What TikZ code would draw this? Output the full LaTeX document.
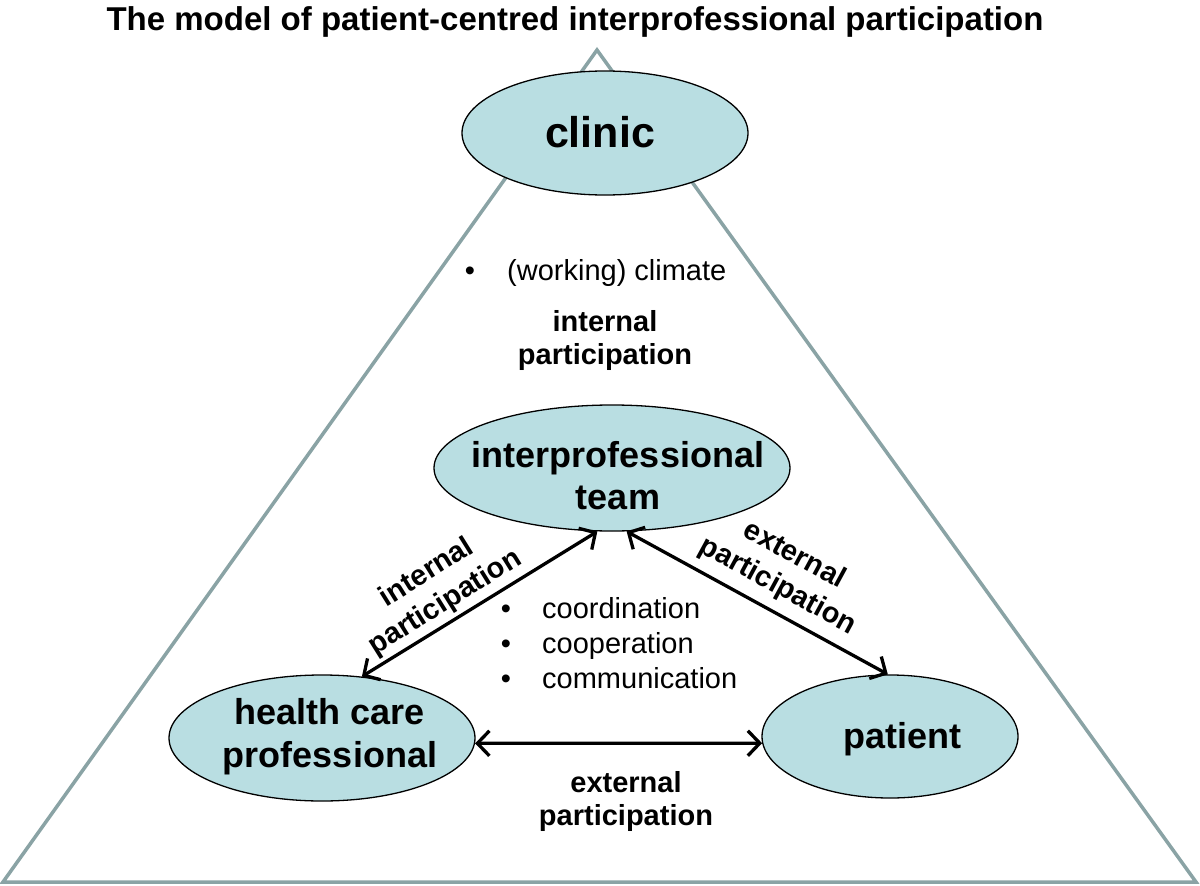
\documentclass[tikz,border=0pt]{standalone}
\usepackage{fontspec}
\setmainfont{Liberation Sans}
\usetikzlibrary{arrows.meta,shapes.geometric}
\definecolor{ellfill}{RGB}{185,222,226}
\definecolor{triline}{RGB}{138,163,165}
\tikzset{
 ell/.style={ellipse, draw=black, line width=1.3pt, fill=ellfill, inner sep=0pt},
 biglab/.style={font=\fontsize{36}{42}\selectfont\bfseries, align=center, inner sep=0pt},
 boldlab/.style={font=\fontsize{29}{33}\selectfont\bfseries, align=center, inner sep=0pt},
 rotlab/.style={font=\fontsize{29}{35}\selectfont\bfseries, align=center, inner sep=0pt},
 plainlab/.style={font=\fontsize{29}{35}\selectfont, inner sep=0pt},
 arr/.style={line width=3.3pt, {Straight Barb[length=12pt,width=25pt]}-{Straight Barb[length=12pt,width=25pt]}},
 tri/.style={draw=triline, line width=3.5pt, line join=miter},
}
\begin{document}
\begin{tikzpicture}[x=1pt,y=-1pt]
\useasboundingbox (0,0) rectangle (1200,886);
% title
\node[font=\fontsize{33}{40}\selectfont\bfseries, anchor=base, inner sep=0pt] (title) at (575,30) {The model of patient-centred interprofessional participation};
% triangle
\coordinate (apex) at (597,50);
\coordinate (bl) at (3,882);
\coordinate (br) at (1196,882);
\draw[tri] (apex) -- (br) -- (bl) -- cycle;
% ellipses
\node[ell, minimum width=286pt, minimum height=124pt] (clinic) at (605,133) {};
\node[ell, minimum width=356pt, minimum height=126pt] (ipt) at (612,468) {};
\node[ell, minimum width=306pt, minimum height=126pt] (hcp) at (322,738) {};
\node[ell, minimum width=256pt, minimum height=123pt] (pat) at (890,736.5) {};
% ellipse texts
\node[font=\fontsize{43}{50}\selectfont\bfseries, anchor=base, inner sep=0pt] (clinict) at (600,147) {clinic};
\node[biglab] (iptt) at (618,476) {interprofessional\\team};
\node[biglab, font=\fontsize{36}{43}\selectfont\bfseries] (hcpt) at (330,737) {health care\\professional};
\node[biglab, anchor=base] (patt) at (902,748) {patient};
% climate bullet
\node[plainlab, anchor=base] (b0) at (470,280) {•};
\node[plainlab, anchor=base west] (climate) at (507,280) {(working) climate};
\node[boldlab] (intp1) at (605,340) {internal\\participation};
% list
\node[plainlab, anchor=base] (b1) at (506,618) {•};
\node[plainlab, anchor=base west] (l1) at (542,618) {coordination};
\node[plainlab, anchor=base] (b2) at (506,653) {•};
\node[plainlab, anchor=base west] (l2) at (542,653) {cooperation};
\node[plainlab, anchor=base] (b3) at (506,688) {•};
\node[plainlab, anchor=base west] (l3) at (542,688) {communication};
% arrows
\draw[arr] (ipt.257.7) -- (hcp.57);
\draw[arr] (ipt.283.4) -- (pat.92);
\draw[arr] (hcp.-2) -- (pat.183);
% arrow labels
\node[rotlab, rotate=32] (intp2) at (436,588) {internal\\participation};
\node[rotlab, rotate=-28.5] (extp1) at (786,571) {external\\participation};
\node[boldlab] (extp2) at (626,801) {external\\participation};
\end{tikzpicture}
\end{document}
